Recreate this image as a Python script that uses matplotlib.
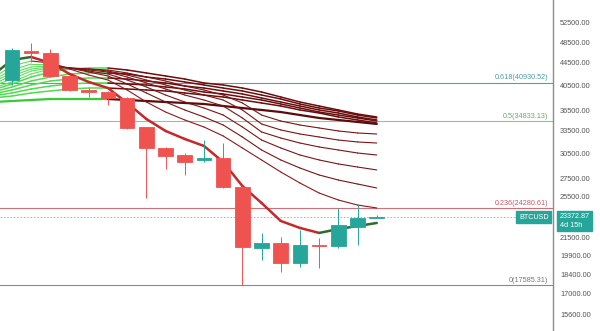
import numpy as np
import matplotlib
matplotlib.use("Agg")
import matplotlib.pyplot as plt

plt.rcParams["font.family"] = ["Liberation Sans", "DejaVu Sans"]

# ==================== DATA ====================
# weekly BTCUSD candles
opens = [41400, 46720, 46330, 42100, 39710, 39380, 38410, 34000, 31190, 30290,
         29670, 29910, 26510, 20560, 20990, 19310, 20820, 20730, 22440, 23300]
highs = [47310, 48300, 47110, 42300, 40050, 39500, 38600, 34100, 31300, 30540,
         32250, 31840, 26600, 21890, 21530, 22160, 21440, 24300, 24600, 23590]
lows = [40600, 44630, 41900, 39500, 38570, 37310, 33700, 25320, 28580, 27870,
        29400, 26350, 17600, 19560, 18600, 18990, 18920, 20600, 20820, 23250]
closes = [46910, 46330, 42100, 39710, 39380, 38410, 33890, 31190, 30160, 29420,
          29910, 26510, 20640, 20990, 19310, 20820, 20730, 22630, 23300, 23372.87]

# EMA ribbon, one value per bar starting one bar before the first candle
ema_s = [42270, 45000, 45570, 44440, 42450, 41060, 40040, 37620, 35190, 33480, 32380,
         31450, 29420, 26620, 24800, 23010, 22350, 21890, 22250, 22530, 22820]
ema_f = [41750, 43890, 44810, 44440, 43340, 42270, 41400, 39710, 37770, 36230, 35050,
         34040, 32790, 31190, 29670, 28220, 26950, 25850, 25110, 24590, 24290]
ema_e = [41400, 43160, 44260, 44260, 43520, 42800, 42100, 40720, 39220, 37770, 36540,
         35490, 34320, 32650, 30930, 29670, 28690, 27870, 27290, 26840, 26400]
ema_d = [41060, 42630, 43710, 43890, 43520, 42980, 42450, 41400, 40210, 38890, 37770,
         36840, 35780, 34040, 32240, 31190, 30290, 29670, 29180, 28810, 28460]
ema_c = [40720, 42100, 43340, 43710, 43520, 43160, 42800, 41920, 40890, 39880, 38890,
         38090, 37150, 35340, 33340, 32510, 31840, 31320, 30930, 30540, 30290]
ema_b = [40380, 41570, 42980, 43520, 43520, 43340, 42980, 42270, 41400, 40550, 39710,
         38890, 38090, 36540, 34470, 33620, 33060, 32650, 32240, 31980, 31840]
ema_a = [40040, 41060, 42450, 43340, 43520, 43340, 43160, 42630, 41920, 41230, 40380,
         39710, 38890, 37620, 35780, 34900, 34320, 33900, 33480, 33200, 33060]
ema_k1 = [39710, 40720, 41920, 42800, 43340, 43520, 43520, 43160, 42630, 42100, 41570,
          40890, 40550, 40040, 39380, 38570, 37770, 37150, 36540, 35930, 35490]
ema_k2 = [39380, 40210, 41230, 41920, 42450, 42630, 42630, 42450, 41920, 41570, 41060,
          40550, 40040, 39550, 38890, 38250, 37460, 36840, 36390, 35780, 35340]
ema_k3 = [39060, 39710, 40550, 41230, 41570, 41750, 41750, 41570, 41230, 40890, 40380,
          40040, 39550, 39060, 38410, 37770, 37150, 36540, 36080, 35490, 35050]
ema_k4 = [38730, 39220, 39880, 40380, 40720, 40890, 40890, 40720, 40550, 40210, 39880,
          39380, 39060, 38570, 38090, 37460, 36840, 36230, 35780, 35340, 34900]
ema_k5 = [38410, 38730, 39220, 39550, 39880, 40040, 40040, 39880, 39710, 39550, 39220,
          38890, 38570, 38090, 37620, 37150, 36540, 36080, 35490, 35050, 34610]
ema_l = [37770, 37930, 38090, 38250, 38250, 38250, 38250, 38090, 37930, 37770, 37620,
         37460, 37150, 36840, 36540, 36230, 35780, 35340, 35050, 34760, 34470]

fib_levels = [0.618, 0.5, 0.236, 0]
fib_prices = [40930.52, 34833.13, 24280.61, 17585.31]

axis_ticks = [15600, 17000, 18400, 19900, 21500, 25500, 27500, 30500, 33500,
              36500, 40500, 44500, 48500, 52500]
symbol = "BTCUSD"
last_price = 23372.87
countdown = "4d 15h"

# ==================== STYLE ====================
UP = "#26a69a"
DOWN = "#ef5350"

ribbon = [
    (ema_l, "#33cc33", "#5c0b0b", 1.6),
    (ema_k5, "#4fdc4f", "#6a0e0e", 1.1),
    (ema_k4, "#4fdc4f", "#6a0e0e", 1.1),
    (ema_k3, "#4fdc4f", "#6a0e0e", 1.1),
    (ema_k2, "#4fdc4f", "#6a0e0e", 1.1),
    (ema_k1, "#4fdc4f", "#6a0e0e", 1.1),
    (ema_a, "#5ee05e", "#7a1414", 0.8),
    (ema_b, "#5ee05e", "#7a1414", 0.8),
    (ema_c, "#5ee05e", "#7a1414", 0.8),
    (ema_d, "#5ee05e", "#7a1414", 0.8),
    (ema_e, "#5ee05e", "#7a1414", 0.8),
    (ema_f, "#5ee05e", "#8b1a1a", 0.8),
    (ema_s, "#2e6b2e", "#c62828", 1.8),
]
fib_colors = ["#5b9ea6", "#8cc78c", "#cf7078", "#8a8a8a"]
fib_text = ["#4f9aa3", "#6aaa6a", "#c45a64", "#777777"]

# ==================== PLOT ====================
fig = plt.figure(figsize=(6.0, 3.31), dpi=100)
ax = fig.add_axes([0, 0, 553 / 600, 1])
ax.set_yscale("log")
ax.set_ylim(14548, 57780)
ax.set_xlim(-0.625, 28.18)

# fib levels
for lvl, price, lc, tc in zip(fib_levels, fib_prices, fib_colors, fib_text):
    ax.axhline(price, color=lc, lw=0.8, zorder=1)
    ax.text(27.95, price * 1.006, f"{lvl}({price:.2f})", ha="right", va="bottom",
            fontsize=5.2, color=tc, zorder=5)

# last price dotted line
ax.axhline(last_price, color="#7fbcb6", lw=0.6, ls=(0, (2, 2)), zorder=1)

# ribbon, coloured by slope
bars = np.arange(-1, len(closes))
for vals, up_c, dn_c, lw in ribbon:
    for k in range(len(vals) - 1):
        c = up_c if vals[k + 1] >= vals[k] else dn_c
        ax.plot(bars[k:k + 2], vals[k:k + 2], color=c, lw=lw,
                solid_capstyle="round", zorder=3)

# candles
idx = np.arange(len(closes))
for i, o, h, l, c in zip(idx, opens, highs, lows, closes):
    col = UP if c >= o else DOWN
    ax.vlines(i, l, h, color=col, lw=0.7, zorder=4)
    ax.bar(i, abs(c - o), bottom=min(o, c), width=0.76, color=col,
           edgecolor=col, lw=0.6, zorder=4)

# right price axis
ax.yaxis.tick_right()
ax.set_yticks(axis_ticks)
ax.set_yticklabels([f"{t:.2f}" for t in axis_ticks])
ax.yaxis.set_minor_locator(matplotlib.ticker.NullLocator())
ax.tick_params(axis="y", length=0, pad=5, labelsize=5.3, labelcolor="#555555")
ax.set_xticks([])
for s in ["top", "left", "bottom"]:
    ax.spines[s].set_visible(False)
ax.spines["right"].set_color("#8c8c8c")
ax.spines["right"].set_linewidth(1.0)

# symbol + last price tags
ax.text(27.95, last_price, symbol, ha="right", va="center", fontsize=5.2,
        color="white", zorder=6,
        bbox=dict(boxstyle="square,pad=0.35", fc=UP, ec=UP))
ax.text(1.012, last_price * 1.016, f"{last_price:.2f}\n{countdown}",
        transform=ax.get_yaxis_transform(), ha="left", va="top", fontsize=5.2,
        color="white", linespacing=1.3, zorder=6,
        bbox=dict(boxstyle="square,pad=0.35", fc=UP, ec=UP), clip_on=False)

fig.savefig("out.png", dpi=100, facecolor="white")
